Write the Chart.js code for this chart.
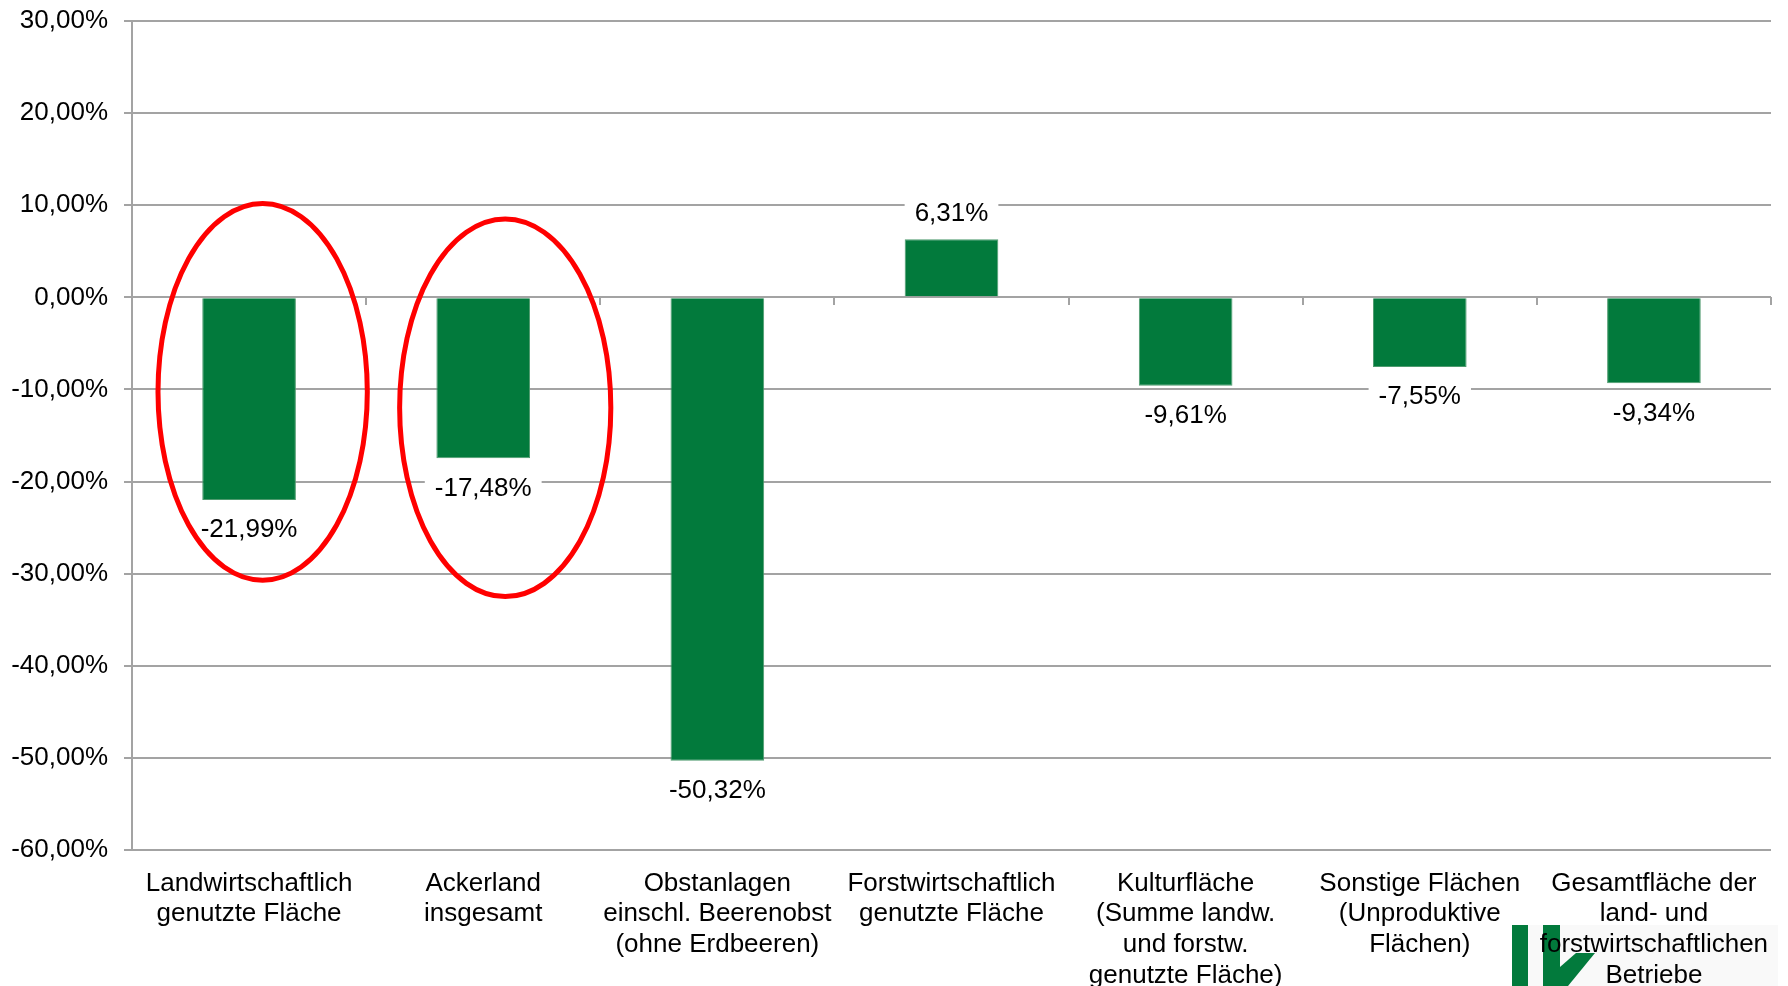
<!DOCTYPE html>
<html lang="de">
<head>
<meta charset="utf-8">
<title>Veränderung der Flächen</title>
<script src="https://cdn.jsdelivr.net/npm/chart.js@4/dist/chart.umd.min.js"></script>
<style>
  html, body { margin: 0; padding: 0; background: #ffffff; }
  #wrap { position: relative; width: 1788px; height: 986px; }
</style>
</head>
<body>
<div id="wrap"><canvas id="chart"></canvas></div>
<script>
// ---- data ----
const categories = [
  ['Landwirtschaftlich', 'genutzte Fläche'],
  ['Ackerland', 'insgesamt'],
  ['Obstanlagen', 'einschl. Beerenobst', '(ohne Erdbeeren)'],
  ['Forstwirtschaftlich', 'genutzte Fläche'],
  ['Kulturfläche', '(Summe landw.', 'und forstw.', 'genutzte Fläche)'],
  ['Sonstige Flächen', '(Unproduktive', 'Flächen)'],
  ['Gesamtfläche der', 'land- und', 'forstwirtschaftlichen', 'Betriebe']
];
const changeValues = [-21.99, -17.48, -50.32, 6.31, -9.61, -7.55, -9.34];
const yTickValues = [30, 20, 10, 0, -10, -20, -30, -40, -50, -60];
const highlightedCategories = [0, 1];

// ---- styling / annotation geometry (not data) ----
const FONT_FAMILY = '"Liberation Sans", Arial, sans-serif';
const FONT_SIZE = 26;
const BAR_COLOR = '#027A3C';
const GRID_COLOR = '#A3A3A3';
const ellipseStyle = [
  { dx: 0.058, rx: 0.447, cy: -10.26, ry: 20.45 },
  { dx: 0.094, rx: 0.451, cy: -11.99, ry: 20.5 }
];

function fmtPct(v) {
  return v.toFixed(2).replace('.', ',') + '%';
}

const decorPlugin = {
  id: 'decor',
  beforeDraw(chart) {
    const ctx = chart.ctx;
    ctx.save();
    ctx.fillStyle = '#F9F9F9';
    ctx.fillRect(1512, 925, 266, 61);
    ctx.fillStyle = '#027A3C';
    ctx.fillRect(1512, 925, 16, 61);
    ctx.fillRect(1543, 925, 17, 61);
    ctx.beginPath();
    ctx.moveTo(1560, 967);
    ctx.lineTo(1576, 953);
    ctx.lineTo(1595, 953);
    ctx.lineTo(1568, 986);
    ctx.lineTo(1560, 986);
    ctx.closePath();
    ctx.fill();
    ctx.restore();
  },
  beforeDatasetsDraw(chart) {
    const ctx = chart.ctx;
    const x = chart.scales.x, y = chart.scales.y;
    const y0 = Math.round(y.getPixelForValue(0));
    const half = (x.getPixelForValue(1) - x.getPixelForValue(0)) / 2;
    ctx.save();
    ctx.strokeStyle = GRID_COLOR;
    ctx.lineWidth = 2;
    ctx.beginPath();
    for (let i = 0; i < categories.length; i++) {
      const bx = Math.round(x.getPixelForValue(i) + half);
      ctx.moveTo(bx, y0);
      ctx.lineTo(bx, y0 + 8);
    }
    ctx.stroke();
    ctx.restore();
  },
  afterDatasetsDraw(chart) {
    const ctx = chart.ctx;
    const meta = chart.getDatasetMeta(0);
    const x = chart.scales.x, y = chart.scales.y;
    ctx.save();
    ctx.font = FONT_SIZE + 'px ' + FONT_FAMILY;
    ctx.textAlign = 'center';
    ctx.textBaseline = 'middle';
    meta.data.forEach((bar, i) => {
      const v = changeValues[i];
      const text = fmtPct(v);
      const cy = y.getPixelForValue(v) + (v < 0 ? 29 : -26);
      const w = ctx.measureText(text).width + 20;
      ctx.fillStyle = '#ffffff';
      ctx.fillRect(bar.x - w / 2, cy - 14, w, 28);
      ctx.fillStyle = '#000000';
      ctx.fillText(text, bar.x, cy + 1);
    });
    const catW = x.getPixelForValue(1) - x.getPixelForValue(0);
    const pxPerUnit = Math.abs(y.getPixelForValue(0) - y.getPixelForValue(1));
    ctx.strokeStyle = '#FF0000';
    ctx.lineWidth = 5;
    highlightedCategories.forEach((ci, k) => {
      const s = ellipseStyle[k];
      const cx = x.getPixelForValue(ci) + s.dx * catW;
      const cyy = y.getPixelForValue(s.cy);
      ctx.beginPath();
      ctx.ellipse(cx, cyy, s.rx * catW, s.ry * pxPerUnit, 0, 0, Math.PI * 2);
      ctx.stroke();
    });
    ctx.restore();
  }
};

new Chart(document.getElementById('chart'), {
  type: 'bar',
  data: {
    labels: categories,
    datasets: [{
      data: changeValues,
      backgroundColor: BAR_COLOR,
      borderColor: '#4E9A6E',
      borderWidth: 1,
      barPercentage: 0.4,
      categoryPercentage: 1.0
    }]
  },
  options: {
    responsive: true,
    maintainAspectRatio: false,
    devicePixelRatio: 1,
    animation: false,
    layout: { padding: { top: 21, right: 17, bottom: 0, left: 0 } },
    plugins: {
      legend: { display: false },
      tooltip: { enabled: false },
      title: { display: false }
    },
    scales: {
      x: {
        grid: { display: false, drawTicks: false },
        border: { display: false },
        ticks: {
          color: '#000000',
          font: { family: FONT_FAMILY, size: FONT_SIZE, lineHeight: 1.185 },
          padding: 18,
          maxRotation: 0,
          minRotation: 0,
          autoSkip: false
        },
        afterFit(scale) {
          scale.height = 136;
          scale.paddingLeft = 0; scale.paddingRight = 0;
        }
      },
      y: {
        min: -60,
        max: 30,
        afterBuildTicks(scale) {
          scale.ticks = yTickValues.map(v => ({ value: v }));
        },
        grid: { color: GRID_COLOR, lineWidth: 2, tickLength: 8, drawTicks: true },
        border: { display: true, color: GRID_COLOR, width: 2 },
        ticks: {
          color: '#000000',
          font: { family: FONT_FAMILY, size: FONT_SIZE },
          padding: 16,
          callback: v => fmtPct(v)
        },
        afterFit(scale) {
          scale.width = 132;
          scale.paddingTop = 0; scale.paddingBottom = 0;
        }
      }
    }
  },
  plugins: [decorPlugin]
});
</script>
</body>
</html>
